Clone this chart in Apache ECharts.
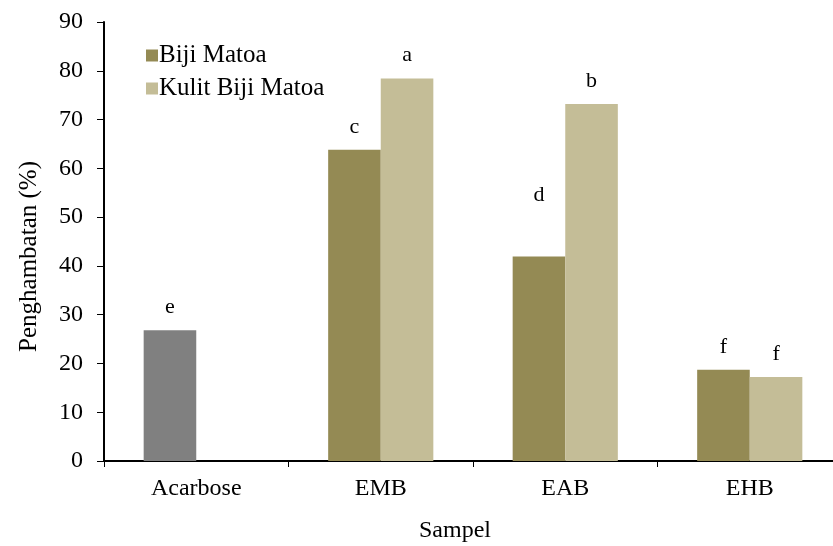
<!DOCTYPE html>
<html>
<head>
<meta charset="utf-8">
<script src="https://cdn.jsdelivr.net/npm/echarts@6/dist/echarts.min.js"></script>
<style>html,body{margin:0;padding:0;background:#fff}#c{width:833px;height:546px}</style>
</head>
<body>
<div id="c"></div>
<script>
const categories = ['Acarbose', 'EMB', 'EAB', 'EHB'];
const bijiValues = [26.8, 63.8, 41.9, 18.7];
const kulitValues = [null, 78.4, 73.2, 17.2];
const bijiLetters = ['e', 'c', 'd', 'f'];
const kulitLetters = ['', 'a', 'b', 'f'];
const yTicks = [0, 10, 20, 30, 40, 50, 60, 70, 80, 90];

const FONT = '"Liberation Serif", "Times New Roman", serif';
const colBiji = '#948A54', colKulit = '#C4BD97', colAcarbose = '#808080';

const chart = echarts.init(document.getElementById('c'), null, {renderer: 'canvas'});
const bijiData = bijiValues.map((v, i) => {
  const item = {value: v};
  if (i === 0) item.itemStyle = {color: colAcarbose};
  if (i === 2) item.label = {distance: 50};
  return item;
});
const labelStyle = (letters) => ({
  show: true, position: 'top', distance: 12,
  fontFamily: FONT, fontSize: 22, color: '#000',
  formatter: p => letters[p.dataIndex]
});
chart.setOption({
  animation: false,
  grid: {left: 104, right: -9, top: 22, bottom: 85, outerBoundsMode: 'none', containLabel: false},
  legend: {
    orient: 'vertical', left: 141, top: 38, itemWidth: 12, itemHeight: 12, itemGap: 8,
    icon: 'rect', textStyle: {fontFamily: FONT, fontSize: 25, color: '#000', padding: [0,0,0,-4]},
    data: ['Biji Matoa', 'Kulit Biji Matoa']
  },
  xAxis: {
    type: 'category', data: categories,
    name: 'Sampel', nameLocation: 'middle', nameGap: 58,
    nameTextStyle: {fontFamily: FONT, fontSize: 24, color: '#000', padding: [0, 36, 0, 0]},
    axisLine: {lineStyle: {color: '#000', width: 2}},
    axisTick: {show: true, length: 6, lineStyle: {color: '#000', width: 1}},
    axisLabel: {fontFamily: FONT, fontSize: 24, color: '#000', margin: 16}
  },
  yAxis: {
    type: 'value', min: 0, max: 90, interval: 10,
    name: 'Penghambatan (%)', nameLocation: 'middle', nameGap: 62, nameRotate: 90,
    nameTextStyle: {fontFamily: FONT, fontSize: 25, color: '#000', padding: [0, 30, 0, 0]},
    axisLine: {show: true, lineStyle: {color: '#000', width: 2}},
    axisTick: {show: true, length: 7, lineStyle: {color: '#000', width: 1}},
    splitLine: {show: false},
    axisLabel: {fontFamily: FONT, fontSize: 24, color: '#000', margin: 21,
      formatter: v => yTicks.includes(v) ? String(v) : ''}
  },
  series: [
    {name: 'Biji Matoa', type: 'bar', data: bijiData, itemStyle: {color: colBiji},
     barGap: '0%', barCategoryGap: '43%', label: labelStyle(bijiLetters)},
    {name: 'Kulit Biji Matoa', type: 'bar', data: kulitValues, itemStyle: {color: colKulit},
     barGap: '0%', barCategoryGap: '43%', label: labelStyle(kulitLetters)}
  ]
});
</script>
</body>
</html>
